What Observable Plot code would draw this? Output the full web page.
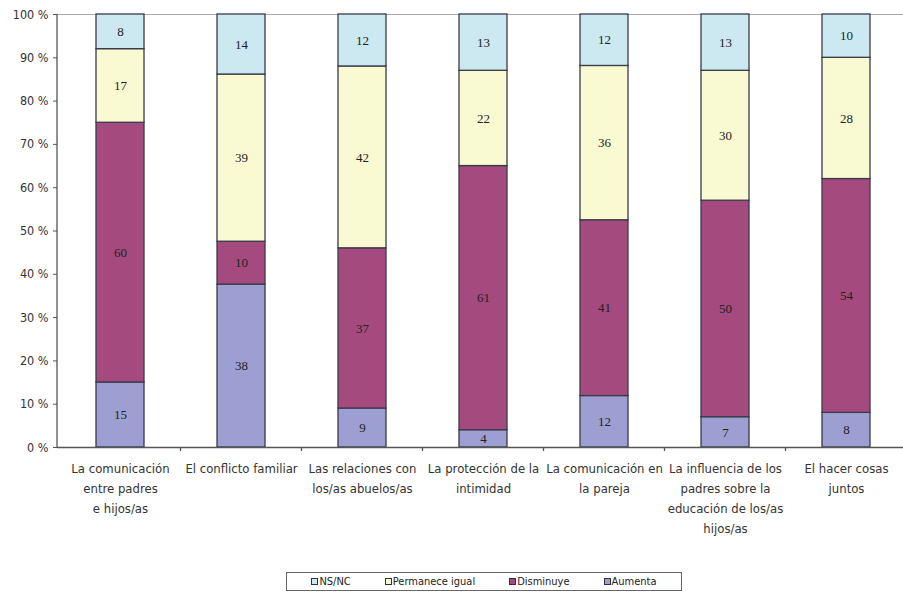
<!DOCTYPE html>
<html>
<head>
<meta charset="utf-8">
<script src="https://cdn.jsdelivr.net/npm/d3@7"></script>
<script src="https://cdn.jsdelivr.net/npm/@observablehq/plot@0.6"></script>
<style>
  html, body { margin: 0; padding: 0; background: #fff; overflow: hidden; }
  #chart { position: relative; width: 903px; height: 604px; }
  .legend {
    position: absolute; left: 286px; top: 572px; width: 396px; height: 19px;
    border: 1px solid #666; box-sizing: border-box;
    display: flex; align-items: center; justify-content: center; gap: 34px;
    font-family: "DejaVu Sans Condensed", "DejaVu Sans", sans-serif; font-size: 11px; color: #222;
  }
  .legend span.item { display: flex; align-items: center; }
  .legend i { display: inline-block; width: 5px; height: 5px; border: 1px solid #333; margin-right: 1px; }
</style>
</head>
<body>
<div id="chart"></div>
<script>
const categories = [
  "La comunicación\nentre padres\ne hijos/as",
  "El conflicto familiar",
  "Las relaciones con\nlos/as abuelos/as",
  "La protección de la\nintimidad",
  "La comunicación en\nla pareja",
  "La influencia de los\npadres sobre la\neducación de los/as\nhijos/as",
  "El hacer cosas\njuntos"
];
const series = ["Aumenta", "Disminuye", "Permanece igual", "NS/NC"];
const aumenta   = [15, 38, 9, 4, 12, 7, 8];
const disminuye = [60, 10, 37, 61, 41, 50, 54];
const permanece = [17, 39, 42, 22, 36, 30, 28];
const nsnc      = [8, 14, 12, 13, 12, 13, 10];
const yTicks = [0, 0.1, 0.2, 0.3, 0.4, 0.5, 0.6, 0.7, 0.8, 0.9, 1];
const colors = ["#9d9fd2", "#a44a7e", "#fafad2", "#cce8f1"];

const valuesBySeries = [aumenta, disminuye, permanece, nsnc];
const rows = [];
categories.forEach((c, i) => {
  series.forEach((s, j) => rows.push({category: c, series: s, value: valuesBySeries[j][i]}));
});

const stackOpts = {x: "category", y: "value", z: "series", offset: "normalize", order: series};
const labelFont = "'DejaVu Sans Condensed', 'DejaVu Sans', sans-serif";

const chart = Plot.plot({
  width: 903,
  height: 560,
  marginLeft: 57,
  marginRight: -7,
  marginTop: 14,
  marginBottom: 113,
  style: {fontFamily: labelFont, background: "#fff", overflow: "visible"},
  x: {domain: categories, paddingInner: 0.6, paddingOuter: 0.3, label: null},
  y: {domain: [0, 1], label: null},
  color: {domain: series, range: colors},
  marks: [
    Plot.ruleY([1], {stroke: "#aaa", strokeWidth: 1.2}),
    Plot.barY(rows, Plot.stackY({...stackOpts, fill: "series", stroke: "#3a3a4a", strokeWidth: 1.3})),
    Plot.text(rows, Plot.stackY({...stackOpts, text: d => String(d.value), fill: "#222",
      fontFamily: "'Liberation Serif', 'DejaVu Serif', serif", fontSize: 13})),
    Plot.ruleY([0], {stroke: "#555", strokeWidth: 1.3}),
    (index, scales, values, dimensions) => {
      const g = d3.create("svg:g");
      const sx = (scales.scales && scales.scales.x) || {};
      const x = scales.x, y = scales.y;
      const n = categories.length;
      const step = typeof sx.step === "number" ? sx.step
        : (dimensions.width - dimensions.marginLeft - dimensions.marginRight) / n;
      const bw = typeof sx.bandwidth === "number" ? sx.bandwidth : step * 0.4;
      const y0 = y(0), y1 = y(1);
      g.append("line").attr("x1", dimensions.marginLeft).attr("x2", dimensions.marginLeft)
        .attr("y1", y0).attr("y2", y1).attr("stroke", "#555").attr("stroke-width", 1.3);
      categories.slice(0, -1).forEach(c => {
        const xb = x(c) + bw / 2 + step / 2;
        if (isFinite(xb)) {
          g.append("line").attr("x1", xb).attr("x2", xb).attr("y1", y0).attr("y2", y0 + 4)
            .attr("stroke", "#555").attr("stroke-width", 1.3);
        }
      });
      return g.node();
    },
    Plot.axisY({ticks: yTicks, tickFormat: d => `${Math.round(d * 100)} %`, tickSize: 4, tickPadding: 5,
      fontSize: 12.5, stroke: "#555", fill: "#333"}),
    Plot.axisX({tickSize: 0, tickPadding: 11, fontSize: 13, lineHeight: 1.54, fill: "#333"})
  ]
});
document.getElementById("chart").appendChild(chart);

const legend = document.createElement("div");
legend.className = "legend";
const legendOrder = ["NS/NC", "Permanece igual", "Disminuye", "Aumenta"];
legendOrder.forEach(s => {
  const item = document.createElement("span");
  item.className = "item";
  const sw = document.createElement("i");
  sw.style.background = colors[series.indexOf(s)];
  item.appendChild(sw);
  item.appendChild(document.createTextNode(s));
  legend.appendChild(item);
});
document.getElementById("chart").appendChild(legend);
</script>
</body>
</html>
